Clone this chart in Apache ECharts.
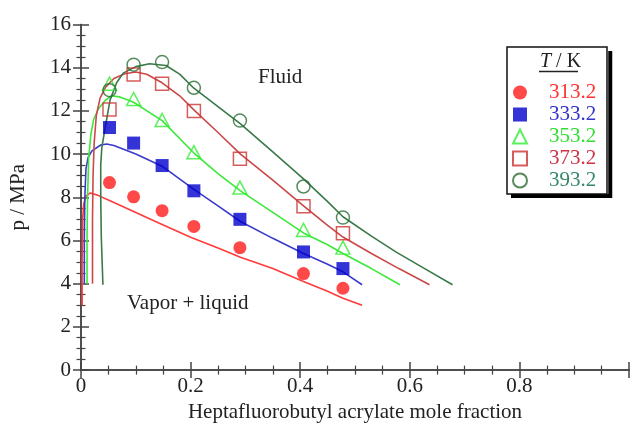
<!DOCTYPE html>
<html>
<head>
<meta charset="utf-8">
<script src="https://cdn.jsdelivr.net/npm/echarts@6/dist/echarts.min.js"></script>
<style>html,body{margin:0;padding:0;background:#fff}#c{width:632px;height:428px}</style>
</head>
<body>
<div id="c"></div>
<script>
// ---- data ----
const temps = ['313.2', '333.2', '353.2', '373.2', '393.2'];
const xExp = [0.052, 0.096, 0.148, 0.206, 0.290, 0.406, 0.478];
const p313 = [8.68, 8.02, 7.38, 6.65, 5.67, 4.47, 3.79];
const p333 = [11.23, 10.51, 9.47, 8.30, 6.98, 5.47, 4.70];
const p353 = [13.26, 12.55, 11.58, 10.09, 8.45, 6.49, 5.67];
const p373 = [12.07, 13.68, 13.26, 12.00, 9.79, 7.58, 6.34];
const p393 = [12.96, 14.14, 14.26, 13.07, 11.55, 8.50, 7.06];

const model313 = [[0.002,3.0],[0.002,5.0],[0.003,7.0],[0.005,7.7],[0.009,8.05],[0.017,8.2],[0.03,8.1],[0.052,7.85],[0.1,7.3],[0.143,6.8],[0.2,6.15],[0.25,5.65],[0.291,5.22],[0.35,4.7],[0.406,4.1],[0.45,3.65],[0.478,3.33],[0.513,3.0]];
const model333 = [[0.006,4.0],[0.006,6.0],[0.007,8.0],[0.009,9.3],[0.013,9.85],[0.02,10.15],[0.036,10.42],[0.047,10.47],[0.06,10.4],[0.1,10.0],[0.148,9.44],[0.206,8.37],[0.25,7.6],[0.291,6.88],[0.35,6.1],[0.406,5.4],[0.45,4.9],[0.478,4.55],[0.513,3.95]];
const model353 = [[0.011,4.0],[0.011,6.0],[0.012,8.0],[0.014,9.8],[0.018,10.9],[0.023,11.6],[0.032,12.1],[0.045,12.5],[0.055,12.7],[0.07,12.65],[0.096,12.4],[0.148,11.55],[0.206,10.05],[0.25,9.1],[0.291,8.3],[0.35,7.3],[0.406,6.35],[0.45,5.8],[0.478,5.4],[0.53,4.7],[0.582,3.95]];
const model373 = [[0.021,4.0],[0.021,7.0],[0.022,9.0],[0.024,10.5],[0.028,11.8],[0.035,12.6],[0.045,13.1],[0.06,13.5],[0.08,13.72],[0.10,13.8],[0.12,13.7],[0.148,13.3],[0.18,12.7],[0.206,12.05],[0.25,11.0],[0.291,10.0],[0.35,8.8],[0.406,7.6],[0.45,6.7],[0.478,6.16],[0.53,5.4],[0.58,4.7],[0.636,3.95]];
const model393 = [[0.040,3.95],[0.037,6.2],[0.036,8.0],[0.036,9.5],[0.038,10.3],[0.044,11.2],[0.053,12.5],[0.065,13.3],[0.077,13.75],[0.1,14.05],[0.125,14.18],[0.155,14.1],[0.18,13.7],[0.206,13.05],[0.25,12.2],[0.291,11.4],[0.35,10.1],[0.406,8.85],[0.45,7.8],[0.478,7.1],[0.53,6.2],[0.576,5.45],[0.62,4.8],[0.678,3.95]];

const FONT = 'Liberation Serif';
const lineColors = ['#ff3b3b', '#3a3acc', '#3ce83c', '#cc4848', '#3a7a48'];
const markColors = ['#ff1a1a', '#0000cc', '#33ee33', '#cc3333', '#2a6e35'];
const textColors = ['#ff3333', '#3333cc', '#33dd33', '#cc3344', '#338866'];
const symbols = ['circle', 'rect', 'triangle', 'rect', 'circle'];
const filled = [true, true, false, false, false];
const pData = [p313, p333, p353, p373, p393];
const models = [model313, model333, model353, model373, model393];

const series = [];
models.forEach((m, i) => {
  series.push({
    type: 'line', data: m, showSymbol: false, symbol: 'none', silent: true,
    lineStyle: { color: lineColors[i], width: 1.6 }, z: 2
  });
});
pData.forEach((p, i) => {
  series.push({
    type: 'scatter', name: temps[i],
    data: xExp.map((x, k) => [x, p[k]]),
    symbol: symbols[i],
    symbolSize: filled[i] ? 13 : (symbols[i] === 'triangle' ? [14, 13] : 13),
    itemStyle: filled[i]
      ? { color: markColors[i] }
      : { color: 'rgba(255,255,255,0)', borderColor: markColors[i], borderWidth: 1.5 },
    z: 3
  });
});

const axisCommon = {
  type: 'value',
  axisLine: { show: true, lineStyle: { color: '#444', width: 1.5 } },
  axisTick: { show: true, inside: true, length: 8, lineStyle: { color: '#444', width: 1.5 } },
  minorTick: { show: true, splitNumber: 4, length: 4.5, lineStyle: { color: '#444', width: 1.2 } },
  splitLine: { show: false },
  minorSplitLine: { show: false }
};
const labelStyle = { fontFamily: FONT, fontSize: 21, color: '#222' };

const option = {
  animation: false,
  backgroundColor: '#fff',
  grid: { left: 80.5, top: 24.5, width: 554.5, height: 350, containLabel: false },
  xAxis: [
    Object.assign({}, axisCommon, {
      min: 0, max: 1, interval: 0.2, position: 'bottom',
      name: 'Heptafluorobutyl acrylate mole fraction', nameLocation: 'middle', nameGap: 25,
      nameTextStyle: { fontFamily: FONT, fontSize: 21, color: '#222' },
      axisLabel: Object.assign({ margin: 6, formatter: v => (v >= 1 ? '' : String(v)) }, labelStyle)
    }),
    Object.assign({}, axisCommon, {
      min: 0, max: 1, interval: 0.2, position: 'top', axisLabel: { show: false }
    })
  ],
  yAxis: [
    Object.assign({}, axisCommon, {
      min: 0, max: 16, interval: 2, position: 'left',
      name: 'p / MPa', nameLocation: 'middle', nameGap: 52, nameRotate: 90,
      nameTextStyle: { fontFamily: FONT, fontSize: 21, color: '#222' },
      axisLabel: Object.assign({ margin: 10 }, labelStyle)
    }),
    Object.assign({}, axisCommon, {
      min: 0, max: 16, interval: 2, position: 'right', axisLabel: { show: false }
    })
  ],
  legend: {
    orient: 'vertical', left: 507, top: 47, z: 10,
    padding: [35, 12, 3, 5],
    itemWidth: 14, itemHeight: 14, itemGap: 1,
    backgroundColor: '#fff', borderWidth: 0,
    shadowColor: '#000', shadowBlur: 0, shadowOffsetX: 4, shadowOffsetY: 4,
    textStyle: { fontFamily: FONT, fontSize: 21, lineHeight: 21, padding: [0, 0, 0, 17] },
    data: temps.map((t, i) => ({ name: t, textStyle: { color: textColors[i] } })),
    selectedMode: false
  },
  graphic: [
    { type: 'rect', z: 100, shape: { x: 507, y: 47, width: 100, height: 147 },
      style: { fill: 'none', stroke: '#111', lineWidth: 1.5 } },
    { type: 'text', z: 100, left: 540, top: 52,
      style: { text: '{i|T} / K', fontFamily: FONT, fontSize: 20, fill: '#222',
        rich: { i: { fontStyle: 'italic', fontFamily: FONT, fontSize: 20, fill: '#222' } } } },
    { type: 'line', z: 100, shape: { x1: 539, y1: 71.5, x2: 578, y2: 71.5 },
      style: { stroke: '#222', lineWidth: 1.3 } },
    { type: 'text', z: 100, left: 258, top: 67,
      style: { text: 'Fluid', fontFamily: FONT, fontSize: 21, fill: '#222' } },
    { type: 'text', z: 100, left: 127, top: 293,
      style: { text: 'Vapor + liquid', fontFamily: FONT, fontSize: 21, fill: '#222' } }
  ],
  series: series
};

const chart = echarts.init(document.getElementById('c'), null, { renderer: 'canvas' });
chart.setOption(option);
</script>
</body>
</html>
